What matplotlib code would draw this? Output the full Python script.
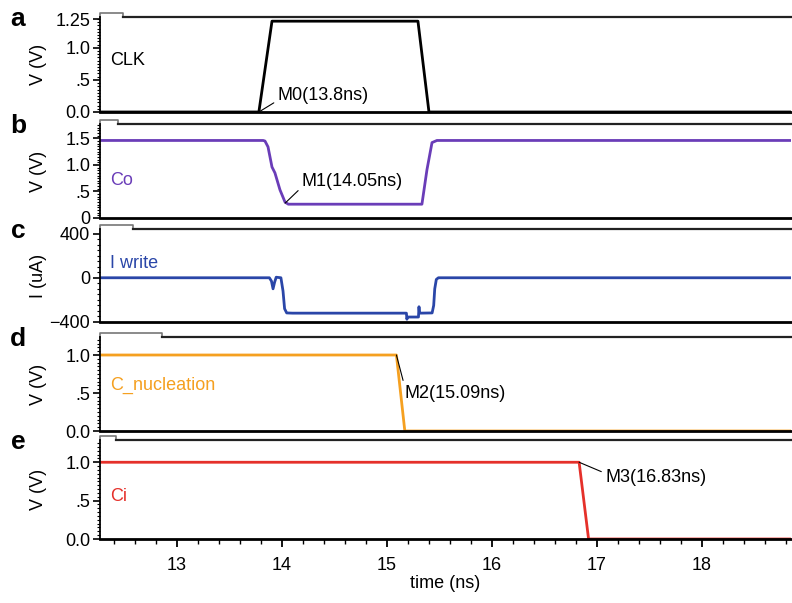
import numpy as np
import matplotlib
matplotlib.use('Agg')
import matplotlib.pyplot as plt
from matplotlib.ticker import FixedLocator, MultipleLocator
from matplotlib.lines import Line2D

plt.rcParams['font.family'] = ['Liberation Sans', 'DejaVu Sans']

# waveforms (time in ns)
clk_t = [12.2, 13.78, 13.905, 15.295, 15.40, 19.0]
clk_v = [0.0, 0.0, 1.415, 1.415, 0.0, 0.0]

co_t = [12.2, 13.82, 13.838, 13.867, 13.905, 13.933, 13.981, 14.029, 14.06, 15.333,
        15.381, 15.429, 15.476, 15.6, 19.0]
co_v = [1.46, 1.46, 1.45, 1.34, 0.96, 0.85, 0.53, 0.30, 0.26, 0.26,
        0.91, 1.42, 1.46, 1.46, 1.46]

iw_t = [12.2, 13.88, 13.90, 13.915, 13.93, 13.945, 13.99, 14.01, 14.025, 14.045, 14.1,
        15.185, 15.19, 15.195, 15.30, 15.305, 15.31, 15.43, 15.445, 15.455, 15.47, 15.49, 19.0]
iw_v = [0, 0, -30, -100, -40, 5, 0, -120, -280, -318, -320,
        -320, -375, -355, -355, -262, -320, -318, -250, -100, -15, 0, 0]

nuc_t = [12.2, 15.09, 15.17, 19.0]
nuc_v = [1.0, 1.0, 0.0, 0.0]

ci_t = [12.2, 16.83, 16.92, 19.0]
ci_v = [1.0, 1.0, 0.0, 0.0]

x_ticks = [13, 14, 15, 16, 17, 18]

W, H = 792, 603
fig = plt.figure(figsize=(W / 100, H / 100), dpi=100)

# (top px, bottom px, tab end px, panel letter)
rows = [(17, 112, 123, 'a'), (124, 218, 118, 'b'), (229, 322, 133, 'c'),
        (337, 431, 162, 'd'), (440, 539, 116, 'e')]
left, right = 100, 791
xlim = (12.267, 12.267 + (right - left) / 105.0)
fs = 13

axes = []
for top, bot, tab, letter in rows:
    ax = fig.add_axes([left / W, 1 - bot / H, (right - left) / W, (bot - top) / H])
    ax.set_xlim(*xlim)
    for s in ['top', 'right']:
        ax.spines[s].set_visible(False)
    ax.spines['bottom'].set_linewidth(2.0)
    ax.spines['left'].set_linewidth(1.3)
    ax.tick_params(axis='y', which='major', direction='out', length=5, width=1.2,
                   labelsize=fs, pad=2)
    ax.tick_params(axis='y', which='minor', direction='out', length=2.5, width=0.8)
    # top frame line with the little tab on the left
    tw = (tab - left) / (right - left)
    th = 4.0 / (bot - top)
    ax.add_line(Line2D([0, 0, tw, tw], [1, 1 + th, 1 + th, 1], transform=ax.transAxes,
                       color='#777777', lw=1.2, clip_on=False))
    ax.add_line(Line2D([tw, 1], [1, 1], transform=ax.transAxes,
                       color='#222222', lw=1.6, clip_on=False))
    fig.text(18 / W, 1 - (top + 2) / H, letter, fontsize=19, fontweight='bold',
             ha='center', va='center')
    axes.append(ax)

for ax in axes[:-1]:
    ax.set_xticks([])


def marker(ax, label, xy, xytext, rel):
    ax.annotate(label, xy=xy, xytext=xytext, fontsize=fs, va='center',
                arrowprops=dict(arrowstyle='-', lw=0.8, color='black',
                                shrinkA=1, shrinkB=0, relpos=rel))


lw = 2.0
ax = axes[0]
ax.plot(clk_t, clk_v, color='black', lw=lw)
ax.set_ylim(0, 1.48)
ax.yaxis.set_major_locator(FixedLocator([0, 0.5, 1.0, 1.445]))
ax.set_yticklabels(['0.0', '.5', '1.0', '1.25'])
ax.yaxis.set_minor_locator(MultipleLocator(0.05))
ax.set_ylabel('V (V)', fontsize=fs)
ax.text(12.36, 0.81, 'CLK', fontsize=fs, color='black', va='center')
marker(ax, 'M0(13.8ns)', (13.78, 0.0), (13.96, 0.26), (0, 0.2))

ax = axes[1]
ax.plot(co_t, co_v, color='#6a3db8', lw=lw)
ax.set_ylim(0, 1.77)
ax.yaxis.set_major_locator(FixedLocator([0, 0.5, 1.0, 1.5]))
ax.set_yticklabels(['0', '.5', '1.0', '1.5'])
ax.yaxis.set_minor_locator(MultipleLocator(0.05))
ax.set_ylabel('V (V)', fontsize=fs)
ax.text(12.36, 0.70, 'Co', fontsize=fs, color='#6a3db8', va='center')
marker(ax, 'M1(14.05ns)', (14.03, 0.28), (14.19, 0.68), (0, 0.2))

ax = axes[2]
ax.plot(iw_t, iw_v, color='#2a46a8', lw=lw)
ax.set_ylim(-400, 441)
ax.yaxis.set_major_locator(FixedLocator([-400, 0, 400]))
ax.set_yticklabels(['\u2212400', '0', '400'])
ax.yaxis.set_minor_locator(MultipleLocator(50))
ax.set_ylabel('I (uA)', fontsize=fs)
ax.text(12.36, 129, 'I write', fontsize=fs, color='#2a46a8', va='center')

ax = axes[3]
ax.plot(nuc_t, nuc_v, color='#f5a020', lw=lw)
ax.set_ylim(0, 1.237)
ax.yaxis.set_major_locator(FixedLocator([0, 0.5, 1.0]))
ax.set_yticklabels(['0.0', '.5', '1.0'])
ax.yaxis.set_minor_locator(MultipleLocator(0.05))
ax.set_ylabel('V (V)', fontsize=fs)
ax.text(12.36, 0.60, 'C_nucleation', fontsize=fs, color='#f5a020', va='center')
marker(ax, 'M2(15.09ns)', (15.09, 1.0), (15.17, 0.5), (0, 0.85))

ax = axes[4]
ax.plot(ci_t, ci_v, color='#e5302a', lw=lw)
ax.set_ylim(0, 1.29)
ax.yaxis.set_major_locator(FixedLocator([0, 0.5, 1.0]))
ax.set_yticklabels(['0.0', '.5', '1.0'])
ax.yaxis.set_minor_locator(MultipleLocator(0.05))
ax.set_ylabel('V (V)', fontsize=fs)
ax.text(12.36, 0.55, 'Ci', fontsize=fs, color='#e5302a', va='center')
marker(ax, 'M3(16.83ns)', (16.83, 1.0), (17.08, 0.8), (0, 0.75))
ax.set_xticks(x_ticks)
ax.xaxis.set_minor_locator(MultipleLocator(0.2))
ax.tick_params(axis='x', which='major', direction='out', length=6, width=1.3,
               labelsize=fs, pad=7)
ax.tick_params(axis='x', which='minor', direction='out', length=3.5, width=1.0)
ax.set_xlabel('time (ns)', fontsize=fs, labelpad=1)

# line up the y labels in one column
for ax in axes:
    ax.yaxis.set_label_coords((47 - left) / (right - left), 0.5)

fig.savefig('out.png', dpi=100)
